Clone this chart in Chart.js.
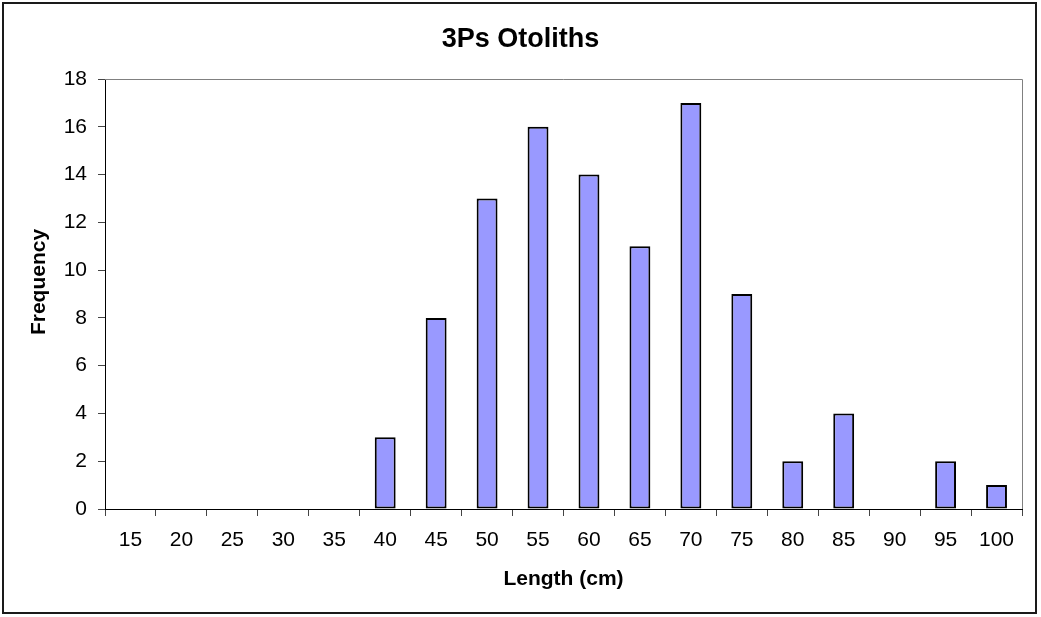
<!DOCTYPE html>
<html>
<head>
<meta charset="utf-8">
<script src="https://cdn.jsdelivr.net/npm/chart.js@4.4.0/dist/chart.umd.min.js"></script>
<style>
  html, body { margin: 0; padding: 0; background: #fff; }
  canvas { display: block; }
</style>
</head>
<body>
<canvas id="c" width="1041" height="617"></canvas>
<script>
const categories = ['15','20','25','30','35','40','45','50','55','60','65','70','75','80','85','90','95','100'];
const frequency = [0,0,0,0,0,3,8,13,16,14,11,17,9,2,4,0,2,1];
const yTicks = [0,2,4,6,8,10,12,14,16,18];
const chartTitle = '3Ps Otoliths';
const xTitle = 'Length (cm)';
const yTitle = 'Frequency';

const FONT = '"Liberation Sans", Arial, sans-serif';

const decor = {
  id: 'decor',
  afterDraw(chart) {
    const ctx = chart.ctx;
    const a = chart.chartArea;
    ctx.save();
    // outer frame
    ctx.strokeStyle = '#1a1a1a';
    ctx.lineWidth = 2;
    ctx.strokeRect(3, 3, 1033, 610);
    // plot area top/right edges
    ctx.strokeStyle = '#808080';
    ctx.lineWidth = 1;
    ctx.beginPath();
    ctx.moveTo(a.left, a.top + 0.5);
    ctx.lineTo(a.right + 0.5, a.top + 0.5);
    ctx.lineTo(a.right + 0.5, a.bottom);
    ctx.stroke();
    // axis titles
    ctx.fillStyle = '#000';
    ctx.font = 'bold 21px ' + FONT;
    ctx.textAlign = 'center';
    ctx.textBaseline = 'middle';
    ctx.fillText(xTitle, (a.left + a.right) / 2, 579);
    ctx.translate(39, 282);
    ctx.rotate(-Math.PI / 2);
    ctx.fillText(yTitle, 0, 0);
    ctx.restore();
  }
};

new Chart(document.getElementById('c'), {
  type: 'bar',
  data: {
    labels: categories,
    datasets: [{
      data: frequency,
      backgroundColor: '#9999FF',
      borderColor: '#000000',
      borderWidth: 2,
      borderSkipped: false,
      barPercentage: 0.41,
      categoryPercentage: 1.0
    }]
  },
  options: {
    responsive: false,
    animation: false,
    devicePixelRatio: 1,
    layout: { padding: { left: 19, right: 19, top: 0, bottom: 0 } },
    plugins: {
      legend: { display: false },
      tooltip: { enabled: false },
      title: {
        display: true,
        text: chartTitle,
        color: '#000',
        font: { family: FONT, size: 27, weight: 'bold', lineHeight: 1.2 },
        padding: { top: 23, bottom: 23.6 }
      }
    },
    scales: {
      x: {
        afterFit(s) { s.height = 108; },
        grid: { display: true, offset: true, drawOnChartArea: false, tickLength: 7, color: '#444', lineWidth: 1 },
        border: { display: true, color: '#000', width: 1 },
        ticks: { color: '#000', font: { family: FONT, size: 21 }, padding: 12, maxRotation: 0, autoSkip: false }
      },
      y: {
        min: 0, max: 18,
        afterFit(s) { s.width = 86; },
        afterBuildTicks(s) { s.ticks = yTicks.map(v => ({ value: v })); },
        grid: { display: true, drawOnChartArea: false, tickLength: 7, color: '#444', lineWidth: 1 },
        border: { display: true, color: '#000', width: 1 },
        ticks: { color: '#000', font: { family: FONT, size: 21 }, padding: 11 }
      }
    }
  },
  plugins: [decor]
});
</script>
</body>
</html>
